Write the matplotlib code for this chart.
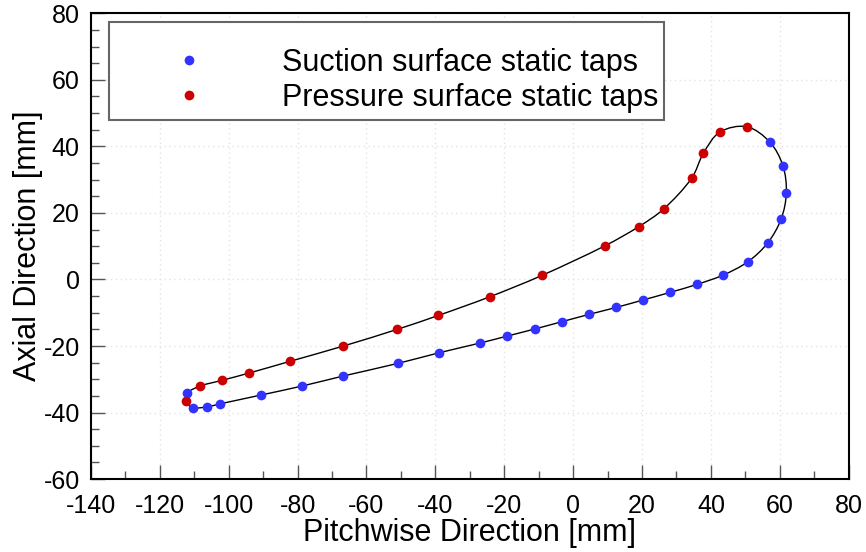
import matplotlib.pyplot as plt
import numpy as np
from matplotlib.path import Path
from matplotlib.patches import PathPatch, Rectangle
from matplotlib.ticker import MultipleLocator

plt.rcParams["font.family"] = ["Liberation Sans", "DejaVu Sans"]
plt.rcParams["axes.unicode_minus"] = False

# suction side taps, leading edge -> trailing edge [mm]
suction_x = [57.1, 60.9, 61.9, 60.4, 56.5, 50.7, 43.5, 35.9, 28.1, 20.2, 12.5, 4.6,
             -3.3, -11.2, -19.1, -27.0, -38.8, -50.8, -66.7, -78.6, -90.5, -102.6,
             -106.4, -110.5, -112.0]
suction_y = [41.3, 34.2, 26.1, 18.2, 11.0, 5.3, 1.3, -1.5, -3.9, -6.2, -8.4, -10.5,
             -12.7, -14.9, -17.0, -19.1, -22.0, -25.2, -29.0, -32.0, -34.7, -37.4,
             -38.3, -38.5, -34.1]

# pressure side taps, trailing edge -> leading edge [mm]
pressure_x = [-112.4, -108.2, -101.9, -94.0, -82.2, -66.7, -51.1, -39.1, -24.2, -9.1,
              9.2, 19.1, 26.3, 34.4, 37.8, 42.6, 50.4]
pressure_y = [-36.6, -32.0, -30.3, -28.1, -24.6, -20.0, -15.0, -10.8, -5.2, 1.2,
              10.1, 15.9, 21.2, 30.4, 37.9, 44.3, 45.9]


def closed_spline_path(px, py):
    """Closed cubic Bezier path through the points (chord-length tangents)."""
    pts = np.column_stack([px, py])
    n = len(pts)
    chord = np.linalg.norm(np.roll(pts, -1, axis=0) - pts, axis=1)
    verts = [pts[0]]
    codes = [Path.MOVETO]
    for i in range(n):
        p0, p1, p2, p3 = pts[i - 1], pts[i], pts[(i + 1) % n], pts[(i + 2) % n]
        d0, d1, d2 = chord[i - 1], chord[i], chord[(i + 1) % n]
        m1 = (p2 - p0) / (d0 + d1)
        m2 = (p3 - p1) / (d1 + d2)
        verts += [p1 + m1 * d1 / 3, p2 - m2 * d1 / 3, p2]
        codes += [Path.CURVE4] * 3
    return Path(verts, codes)


# blade contour: suction side, round the trailing edge, back along pressure side
cx = suction_x[:-1] + [pressure_x[0], suction_x[-1]] + pressure_x[1:]
cy = suction_y[:-1] + [pressure_y[0], suction_y[-1]] + pressure_y[1:]

fig = plt.figure(figsize=(8.66, 5.52), dpi=100)
ax = fig.add_axes([0.105, 0.132, 0.875, 0.844])

ax.add_patch(PathPatch(closed_spline_path(cx, cy), facecolor="none",
                       edgecolor="black", lw=1.0, zorder=2))
ax.plot(suction_x, suction_y, "o", color="#3333ff", ms=7, mec="none",
        zorder=3, label="Suction surface static taps")
ax.plot(pressure_x, pressure_y, "o", color="#cc0000", ms=7, mec="none",
        zorder=3, label="Pressure surface static taps")

ax.set_xlim(-140, 80)
ax.set_ylim(-60, 80)
ax.xaxis.set_major_locator(MultipleLocator(20))
ax.xaxis.set_minor_locator(MultipleLocator(10))
ax.yaxis.set_major_locator(MultipleLocator(20))
ax.yaxis.set_minor_locator(MultipleLocator(5))
ax.tick_params(which="both", direction="in", color="#555555", width=1.0,
               labelsize=18, top=False, right=False)
ax.tick_params(which="major", length=10)
ax.tick_params(which="minor", length=6)
ax.tick_params(axis="x", which="major", pad=11)
ax.tick_params(axis="y", which="major", pad=8)
ax.grid(True, which="major", linestyle=(0, (1, 2.5)), color="#e3e3e3", lw=1.0)
ax.set_axisbelow(True)
for s in ax.spines.values():
    s.set_linewidth(1.5)

ax.set_xlabel("Pitchwise Direction [mm]", fontsize=22, labelpad=0)
ax.set_ylabel("Axial Direction [mm]", fontsize=22, labelpad=0)

# legend box drawn separately so the entries can sit low in it
ax.add_patch(Rectangle((0.0237, 0.7704), 0.7323, 0.2103, transform=ax.transAxes,
                       facecolor="white", edgecolor="#666666", lw=1.5, zorder=4))
leg = ax.legend(loc="upper left", bbox_to_anchor=(0.024, 0.971, 0.732, 0.0),
                mode="expand", fontsize=22, handlelength=3.8, handletextpad=1.15,
                borderpad=0.7, labelspacing=0.15, frameon=False,
                borderaxespad=0.0)
leg.set_zorder(5)

fig.savefig("out.png", dpi=100)
